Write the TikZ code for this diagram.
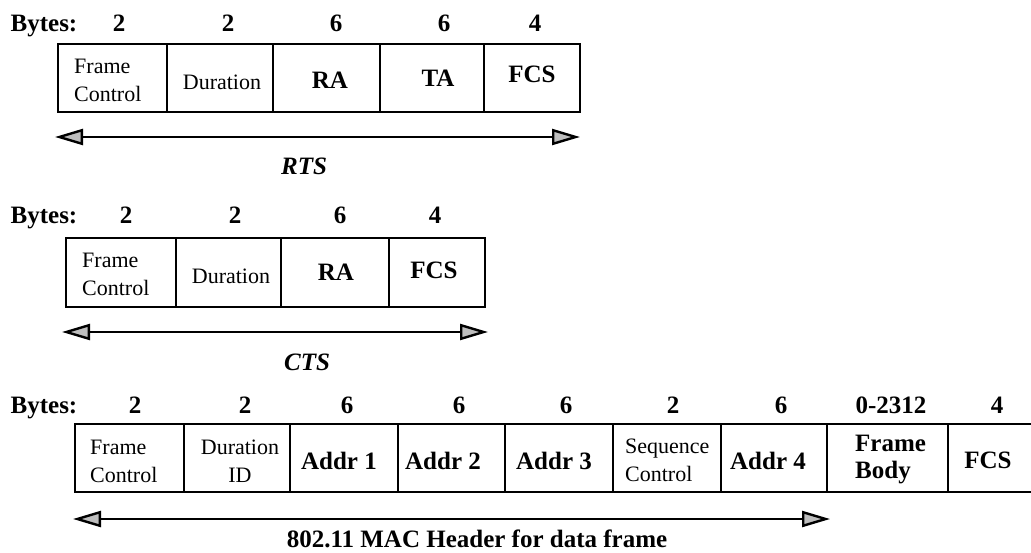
\documentclass[tikz,border=0pt]{standalone}
\usepackage{fontspec}
\setmainfont{Liberation Serif}
\usetikzlibrary{arrows.meta}
\definecolor{tipgray}{HTML}{BEBEBE}
\begin{document}
\begin{tikzpicture}[x=1pt,y=-1pt,
  cell/.style={draw=black,line width=2pt},
  bold/.style={font=\fontsize{25}{27}\selectfont\bfseries,inner sep=0pt},
  boldl/.style={bold,align=left},
  reg/.style={font=\fontsize{22}{28}\selectfont,inner sep=0pt,align=left},
  regc/.style={reg,align=center},
  ital/.style={font=\fontsize{25}{28}\selectfont\bfseries\itshape,inner sep=0pt},
  span/.style={line width=2pt,
    {Triangle[length=28pt,width=16pt,fill=tipgray,line width=2.4pt]}-{Triangle[length=28pt,width=16pt,fill=tipgray,line width=2.4pt]}}
]
\useasboundingbox (0,0) rectangle (1031,552);

% ---------- RTS ----------
\draw[cell] (58,44) rectangle (580,112);
\foreach \x in {167,273,380,484} \draw[cell] (\x,44) -- (\x,112);
\node[bold] (rbytes) at (44,26) {Bytes:};
\node[bold] (rn1) at (119,23) {2};
\node[bold] (rn2) at (228,23) {2};
\node[bold] (rn3) at (336,23) {6};
\node[bold] (rn4) at (444,23) {6};
\node[bold] (rn5) at (535,23) {4};
\node[reg,anchor=west] (rfc) at (74,80) {Frame\\Control};
\node[reg] (rdur) at (222,82) {Duration};
\node[bold] (rra) at (330,80) {RA};
\node[bold] (rta) at (438,78) {TA};
\node[bold] (rfcs) at (532,74) {FCS};
\coordinate (rl) at (55,137);
\coordinate (rr) at (580,137);
\draw[span] (rl) -- (rr);
\node[ital] (rts) at (304,166) {RTS};

% ---------- CTS ----------
\draw[cell] (66,238) rectangle (485,307);
\foreach \x in {176,281,389} \draw[cell] (\x,238) -- (\x,307);
\node[bold] (cbytes) at (44,218) {Bytes:};
\node[bold] (cn1) at (126,215) {2};
\node[bold] (cn2) at (235,215) {2};
\node[bold] (cn3) at (340,215) {6};
\node[bold] (cn4) at (435,215) {4};
\node[reg,anchor=west] (cfc) at (82,274) {Frame\\Control};
\node[reg] (cdur) at (231,276) {Duration};
\node[bold] (cra) at (336,272) {RA};
\node[bold] (cfcs) at (434,270) {FCS};
\coordinate (cl) at (62,332);
\coordinate (cr) at (488,332);
\draw[span] (cl) -- (cr);
\node[ital] (cts) at (307,362) {CTS};

% ---------- Data frame ----------
\draw[cell] (1040,424) -- (75,424) -- (75,492) -- (1040,492);
\foreach \x in {184,290,398,505,613,721,827,948} \draw[cell] (\x,424) -- (\x,492);
\node[bold] (dbytes) at (44,408) {Bytes:};
\node[bold] (dn1) at (135,405) {2};
\node[bold] (dn2) at (245,405) {2};
\node[bold] (dn3) at (347,405) {6};
\node[bold] (dn4) at (459,405) {6};
\node[bold] (dn5) at (566,405) {6};
\node[bold] (dn6) at (673,405) {2};
\node[bold] (dn7) at (781,405) {6};
\node[bold] (dn8) at (891,405) {0-2312};
\node[bold] (dn9) at (997,405) {4};
\node[reg,anchor=west] (dfc) at (90,461) {Frame\\Control};
\node[regc] (ddur) at (240,461) {Duration\\ID};
\node[bold] (da1) at (339,461) {Addr 1};
\node[bold] (da2) at (443,461) {Addr 2};
\node[bold] (da3) at (554,461) {Addr 3};
\node[reg,anchor=west] (dseq) at (625,460) {Sequence\\Control};
\node[bold] (da4) at (768,461) {Addr 4};
\node[boldl,anchor=west] (dbody) at (855,460) {Frame\\Body};
\node[bold] (dfcs) at (988,460) {FCS};
\coordinate (dl) at (73,519);
\coordinate (dr) at (830,519);
\draw[span] (dl) -- (dr);
\node[bold] (dcap) at (477,539) {802.11 MAC Header for data frame};
\end{tikzpicture}
\end{document}
